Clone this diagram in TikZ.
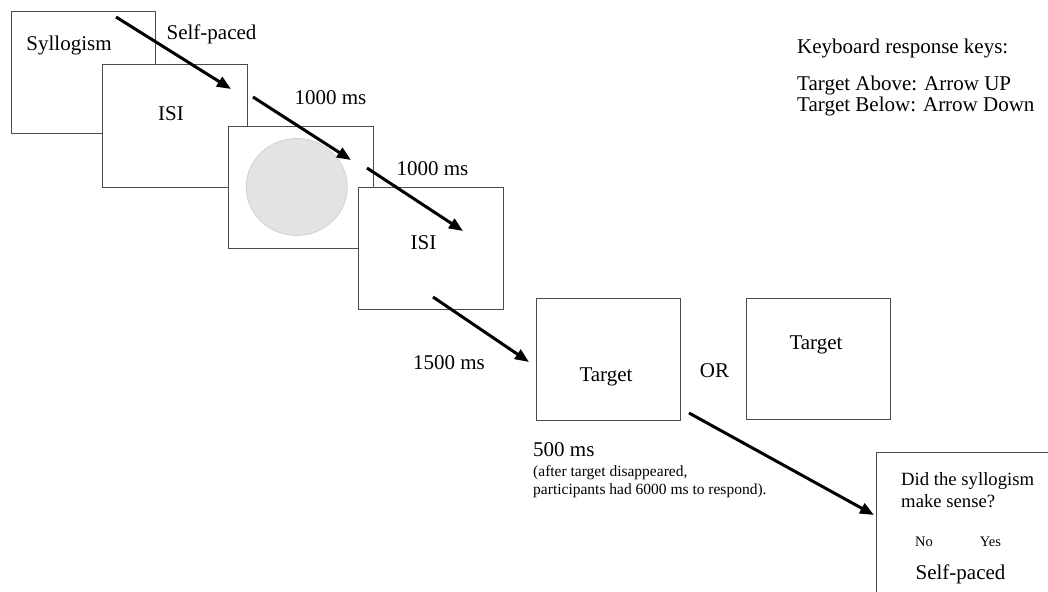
\documentclass[tikz,border=0pt]{standalone}
\usepackage{fontspec}
\setmainfont{Liberation Serif}
\usetikzlibrary{arrows.meta,shapes.geometric}
\begin{document}
\begin{tikzpicture}[x=1pt,y=-1pt,
  screen/.style={draw=black!70, line width=1pt, fill=white, inner sep=0pt, minimum width=145pt, minimum height=122pt},
  flow/.style={line width=3pt, -{Triangle[length=14pt,width=11pt]}},
  lbl/.style={inner sep=0pt, anchor=base, font=\fontsize{21}{24}\selectfont},
  small/.style={inner sep=0pt, anchor=base west, font=\fontsize{15.5}{18}\selectfont},
  mid/.style={inner sep=0pt, anchor=base, font=\fontsize{14.5}{17}\selectfont}]
\useasboundingbox (0,0) rectangle (1048,591);
\clip (0,0) rectangle (1048,591);
% screens
\node[screen, minimum width=144pt, minimum height=121pt] (s1) at (83,72.5) {};
\node[screen] (s2) at (174.5,126) {};
\node[screen] (s3) at (300.5,187) {};
\node[ellipse, draw=black!18, fill=black!11, line width=0.8pt, minimum width=101pt, minimum height=97pt, inner sep=0pt] (fix) at (296.7,187) {};
\node[screen] (s4) at (430.5,248) {};
\node[screen, minimum width=144pt] (s5) at (608,359) {};
\node[screen, minimum width=144pt, minimum height=121pt] (s6) at (818,358.5) {};
\draw[draw=black!70, line width=1pt] (876,600) -- (876,452) -- (1060,452);
% texts
\node[lbl] (t1) at (69,51) {Syllogism};
\node[lbl] (t2) at (211.5,40) {Self-paced};
\node[lbl] (t3) at (171,121) {ISI};
\node[lbl] (t4) at (330.5,104) {1000 ms};
\node[lbl] (t5) at (432.5,175) {1000 ms};
\node[lbl] (t6) at (423.5,249) {ISI};
\node[lbl] (t7) at (449,369) {1500 ms};
\node[lbl] (t8) at (606,381) {Target};
\node[lbl] (t9) at (714.5,377) {OR};
\node[lbl] (t10) at (816,349) {Target};
\node[lbl, anchor=base west] (t11) at (533,456) {500 ms};
\node[small] (t12) at (533,476) {(after target disappeared,};
\node[small] (t13) at (533,494) {participants had 6000 ms to respond).};
\node[inner sep=0pt, anchor=base west, font=\fontsize{18.7}{22}\selectfont] (q1) at (901,485) {Did the syllogism};
\node[inner sep=0pt, anchor=base west, font=\fontsize{18.7}{22}\selectfont] (q2) at (901,507) {make sense?};
\node[mid] (no) at (924,546) {No};
\node[mid] (yes) at (990.5,546) {Yes};
\node[lbl] (sp) at (960.5,579) {Self-paced};
\node[lbl, anchor=base west] (k1) at (797,54) {Keyboard response keys:};
\node[lbl, anchor=base west] (k2) at (797,91) {Target Above: Arrow UP};
\node[lbl, anchor=base west] (k3) at (797,112) {Target Below: Arrow Down};
% arrows
\coordinate (a1s) at (116,17);  \coordinate (a1e) at (231,89);
\coordinate (a2s) at (253,97);  \coordinate (a2e) at (351,160);
\coordinate (a3s) at (367,168); \coordinate (a3e) at (463,231);
\coordinate (a4s) at (433,297); \coordinate (a4e) at (529,362);
\coordinate (a5s) at (689,413); \coordinate (a5e) at (874,515);
\draw[flow] (a1s) -- (a1e);
\draw[flow] (a2s) -- (a2e);
\draw[flow] (a3s) -- (a3e);
\draw[flow] (a4s) -- (a4e);
\draw[flow] (a5s) -- (a5e);
\end{tikzpicture}
\end{document}
